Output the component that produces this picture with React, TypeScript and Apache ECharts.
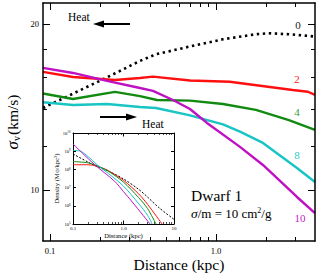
import React, { useEffect, useRef } from "react";
import * as echarts from "echarts";

// ---- Main panel: velocity dispersion (km/s) vs distance (kpc) ----
const sigma0X = [0.0908, 0.2205, 0.3484, 0.435, 0.688, 1.1, 1.74, 2.08, 2.75, 3.948];
const sigma0Y = [14.08, 16.0, 17.14, 17.62, 18.19, 18.76, 19.16, 19.24, 19.16, 18.98];
const sigma2X = [0.0908, 0.1376, 0.2463, 0.3484, 0.4174, 0.6973, 1.21, 2.9, 3.58, 3.948];
const sigma2Y = [16.37, 16.03, 15.83, 15.96, 16.05, 15.79, 15.71, 15.18, 15.07, 14.87];
const sigma4X = [0.0908, 0.1376, 0.2463, 0.3484, 0.4411, 0.6973, 1.102, 1.74, 2.75, 3.948];
const sigma4Y = [14.96, 14.62, 15.06, 14.8, 14.56, 14.52, 14.32, 13.97, 13.39, 12.85];
const sigma8X = [0.0908, 0.1376, 0.2205, 0.3484, 0.435, 0.688, 1.102, 1.395, 1.919, 3.076, 3.948];
const sigma8Y = [14.42, 14.26, 14.32, 14.14, 14.08, 13.67, 13.15, 12.76, 12.17, 10.96, 10.34];
const sigma10X = [0.0908, 0.1376, 0.2205, 0.3484, 0.4174, 0.5508, 0.6973, 0.8828, 1.395, 1.919, 3.076, 3.948];
const sigma10Y = [16.65, 16.3, 15.77, 15.31, 15.12, 14.56, 14.02, 13.23, 11.97, 11.1, 9.71, 9.08];

const mainXRange = [0.0908, 3.95];
const mainYRange = [8.08, 21.83];
const mainXMajor = [0.1, 1];
const mainXMinor = [0.2, 0.3, 0.4, 0.5, 0.6, 0.7, 0.8, 0.9, 2, 3];
const mainYMajor = [10, 20];
const mainYMinor = [12, 14, 16, 18];

// ---- Inset: density (Msun/kpc^3) vs distance (kpc) ----
const rho0X = [0.1, 0.2, 0.3, 0.5, 1, 2, 3, 5, 10];
const rho0Y = [7e8, 2.5e8, 1.4e8, 8e7, 3e7, 8e6, 3e6, 8e5, 1.8e5];
const rho2X = [0.1, 0.2, 0.3, 0.5, 1, 2, 3, 5.8];
const rho2Y = [1.8e8, 1.8e8, 1.5e8, 8.5e7, 2.5e7, 4.5e6, 1.2e6, 1e5];
const rho4X = [0.1, 0.2, 0.3, 0.5, 1, 2, 3, 4.4];
const rho4Y = [2.7e8, 2.3e8, 1.6e8, 8e7, 2e7, 2.8e6, 7e5, 1e5];
const rho8X = [0.1, 0.14, 0.2, 0.3, 0.5, 1, 2, 3, 3.67];
const rho8Y = [1.1e9, 1.0e9, 5e8, 1.8e8, 6e7, 1.2e7, 1.3e6, 3e5, 1e5];
const rho10X = [0.1, 0.27, 0.67, 1, 1.5, 3.35];
const rho10Y = [2.5e9, 1.8e8, 2.2e7, 6e6, 1.6e6, 1e5];

const insetXRange = [0.1, 10];
const insetYRange = [1e5, 1e10];
const insetXMajor = [0.1, 1, 10];
const insetXMinor = [0.2, 0.3, 0.4, 0.5, 0.6, 0.7, 0.8, 0.9, 2, 3, 4, 5, 6, 7, 8, 9];
const insetYMajor = [1e5, 1e6, 1e7, 1e8, 1e9, 1e10];

const crossSections = ["0", "2", "4", "8", "10"];
const colors = ["#000000", "#ff1010", "#128a12", "#18c4c4", "#c010c4"];
const labelColors = ["#222222", "#ff2020", "#3c9a3c", "#30c8c8", "#c020c8"];

const FONT = "Liberation Serif";
const L = Math.log10;

function pairs(xs: number[], ys: number[]) {
  return xs.map((x, i) => [L(x), L(ys[i])]);
}

function axis(o: any) {
  return {
    type: "value",
    gridIndex: o.grid,
    position: o.position,
    min: L(o.range[0]),
    max: L(o.range[1]),
    axisLine: { show: !!o.line, onZero: false, lineStyle: { color: "#000", width: o.lineWidth || 1.5 } },
    axisTick: {
      show: true,
      inside: true,
      length: o.len,
      customValues: o.ticks.map(L),
      lineStyle: { color: "#000", width: o.tickWidth || 1 },
    },
    axisLabel: o.label
      ? {
          show: true,
          customValues: o.ticks.map(L),
          formatter: o.label.formatter,
          fontFamily: FONT,
          fontSize: o.label.size,
          color: "#000",
          margin: o.label.margin,
          rich: o.label.rich,
        }
      : { show: false },
    splitLine: { show: false },
    name: o.name,
    nameLocation: "middle",
    nameGap: o.nameGap,
    nameMoveOverlap: false,
    nameTextStyle: o.nameStyle,
    z: 5,
  };
}

export default function App() {
  const ref = useRef<HTMLDivElement>(null);
  useEffect(() => {
    if (!ref.current) return;
    const chart = echarts.init(ref.current, null, { renderer: "svg" });

    const sigmaSets = [
      [sigma0X, sigma0Y],
      [sigma2X, sigma2Y],
      [sigma4X, sigma4Y],
      [sigma8X, sigma8Y],
      [sigma10X, sigma10Y],
    ];
    const rhoSets = [
      [rho0X, rho0Y],
      [rho2X, rho2Y],
      [rho4X, rho4Y],
      [rho8X, rho8Y],
      [rho10X, rho10Y],
    ];

    const mainSeries = sigmaSets.map(([xs, ys], i) => ({
      type: "line",
      name: crossSections[i],
      xAxisIndex: 0,
      yAxisIndex: 0,
      data: pairs(xs, ys),
      showSymbol: false,
      symbol: "none",
      lineStyle: {
        color: colors[i],
        width: i === 0 ? 2.6 : 2.4,
        type: i === 0 ? [2.4, 3.6] : "solid",
        cap: "butt",
      },
      z: 2,
    }));
    const insetSeries = rhoSets.map(([xs, ys], i) => ({
      type: "line",
      name: "rho" + crossSections[i],
      xAxisIndex: 4,
      yAxisIndex: 4,
      data: pairs(xs, ys),
      showSymbol: false,
      symbol: "none",
      smooth: 0.3,
      lineStyle: { color: colors[i], width: 1, type: i === 0 ? [2, 1.6] : "solid" },
      z: 6,
    }));

    const xfmt = (v: number) => (Math.abs(v) < 1e-6 ? "1.0" : Math.abs(v - 1) < 1e-6 ? "10" : "0.1");
    const yfmt = (v: number) => "{b|10}{s|" + Math.round(v) + "}";

    const option: any = {
      animation: false,
      backgroundColor: "#fff",
      textStyle: { fontFamily: FONT },
      grid: [
        { left: 43, right: 1, top: 3, bottom: 33, containLabel: false, outerBoundsMode: "none" },
        {
          left: 73,
          top: 133,
          width: 101,
          height: 91,
          show: true,
          backgroundColor: "#fff",
          borderWidth: 0,
          z: 4,
          containLabel: false,
          outerBoundsMode: "none",
        },
      ],
      xAxis: [
        axis({
          grid: 0, position: "bottom", range: mainXRange, line: true, len: 7, ticks: mainXMajor,
          label: { formatter: xfmt, size: 8.5, margin: 5 },
          name: "Distance (kpc)", nameGap: 15,
          nameStyle: { fontFamily: FONT, fontSize: 15.5, color: "#000" },
        }),
        axis({ grid: 0, position: "bottom", range: mainXRange, len: 4, ticks: mainXMinor }),
        axis({ grid: 0, position: "top", range: mainXRange, line: true, len: 7, ticks: mainXMajor }),
        axis({ grid: 0, position: "top", range: mainXRange, len: 4, ticks: mainXMinor }),
        axis({
          grid: 1, position: "bottom", range: insetXRange, line: true, lineWidth: 1, len: 3.5, ticks: insetXMajor,
          label: { formatter: xfmt, size: 5, margin: 2 },
          name: "Distance (kpc)", nameGap: 8,
          nameStyle: { fontFamily: FONT, fontSize: 6.6, color: "#000" },
        }),
        axis({ grid: 1, position: "bottom", range: insetXRange, len: 2, ticks: insetXMinor, tickWidth: 0.7 }),
        axis({ grid: 1, position: "top", range: insetXRange, line: true, lineWidth: 1, len: 3.5, ticks: insetXMajor }),
        axis({ grid: 1, position: "top", range: insetXRange, len: 2, ticks: insetXMinor, tickWidth: 0.7 }),
      ],
      yAxis: [
        axis({
          grid: 0, position: "left", range: mainYRange, line: true, len: 7, ticks: mainYMajor,
          label: { formatter: (v: number) => String(Math.round(Math.pow(10, v))), size: 8.5, margin: 4 },
          name: "{s|σ}{v|v}{u|(km/s)}", nameGap: 22,
          nameStyle: {
            color: "#000",
            fontFamily: FONT,
            rich: {
              s: { fontFamily: FONT, fontSize: 17, fontStyle: "italic", color: "#000", verticalAlign: "middle" },
              v: { fontFamily: FONT, fontSize: 10, color: "#000", verticalAlign: "bottom", padding: [6, 1, 0, 0] },
              u: { fontFamily: FONT, fontSize: 15.5, color: "#000", verticalAlign: "middle" },
            },
          },
        }),
        axis({ grid: 0, position: "left", range: mainYRange, len: 4, ticks: mainYMinor }),
        axis({ grid: 0, position: "right", range: mainYRange, line: true, len: 7, ticks: mainYMajor }),
        axis({ grid: 0, position: "right", range: mainYRange, len: 4, ticks: mainYMinor }),
        axis({
          grid: 1, position: "left", range: insetYRange, line: true, lineWidth: 1, len: 3, ticks: insetYMajor,
          label: {
            formatter: yfmt, size: 4.5, margin: 2.5,
            rich: {
              b: { fontFamily: FONT, fontSize: 4.5, color: "#000" },
              s: { fontFamily: FONT, fontSize: 3.2, color: "#000", verticalAlign: "top", padding: [0, 0, 2, 0] },
            },
          },
          name: "{a|Density (M}{b|⊙}{a|/kpc}{c|3}{a|)}", nameGap: 13,
          nameStyle: {
            fontFamily: FONT,
            rich: {
              a: { fontFamily: FONT, fontSize: 6.6, color: "#000" },
              b: { fontFamily: FONT, fontSize: 4.5, color: "#000", verticalAlign: "bottom" },
              c: { fontFamily: FONT, fontSize: 4.5, color: "#000", verticalAlign: "top" },
            },
          },
        }),
        axis({ grid: 1, position: "right", range: insetYRange, line: true, lineWidth: 1, len: 3, ticks: insetYMajor }),
      ],
      series: [...mainSeries, ...insetSeries],
      graphic: [
        // top "Heat" arrow (pointing left)
        { type: "text", x: 68, y: 17, z: 10, style: { text: "Heat", fontFamily: FONT, fontSize: 11.5, fill: "#000", verticalAlign: "middle" } },
        { type: "line", z: 10, shape: { x1: 102, y1: 24, x2: 130, y2: 24 }, style: { stroke: "#000", lineWidth: 2 } },
        { type: "polygon", z: 10, shape: { points: [[93, 24], [104, 20.5], [104, 27.5]] }, style: { fill: "#000" } },
        // bottom "Heat" arrow (pointing right)
        { type: "line", z: 10, shape: { x1: 100, y1: 117, x2: 128, y2: 117 }, style: { stroke: "#000", lineWidth: 2 } },
        { type: "polygon", z: 10, shape: { points: [[137, 117], [126, 113.5], [126, 120.5]] }, style: { fill: "#000" } },
        { type: "text", x: 142, y: 124, z: 10, style: { text: "Heat", fontFamily: FONT, fontSize: 11.5, fill: "#000", verticalAlign: "middle" } },
        // curve labels (cross-section values)
        ...[
          [298, 25],
          [297, 79],
          [297, 112],
          [297, 155],
          [300, 218],
        ].map((p, i) => ({
          type: "text",
          x: p[0],
          y: p[1],
          z: 10,
          style: {
            text: crossSections[i],
            fontFamily: FONT,
            fontSize: 11,
            fill: labelColors[i],
            align: "center",
            verticalAlign: "middle",
          },
        })),
        { type: "text", x: 191, y: 195, z: 10, style: { text: "Dwarf 1", fontFamily: FONT, fontSize: 15.5, fill: "#000", verticalAlign: "middle" } },
        {
          type: "text",
          x: 191,
          y: 213,
          z: 10,
          style: {
            text: "{i|σ}{r|/m = 10 cm}{s|2}{r|/g}",
            verticalAlign: "middle",
            fontFamily: FONT,
            rich: {
              i: { fontFamily: FONT, fontSize: 13.5, fontStyle: "italic", fill: "#000" },
              r: { fontFamily: FONT, fontSize: 13, fill: "#000" },
              s: { fontFamily: FONT, fontSize: 8, fill: "#000", verticalAlign: "top" },
            },
          },
        },
      ],
    };
    chart.setOption(option);
    return () => chart.dispose();
  }, []);
  return (
    <div
      ref={ref}
      style={{ position: "fixed", left: 0, top: 0, width: 316, height: 274, background: "#fff" }}
    />
  );
}
